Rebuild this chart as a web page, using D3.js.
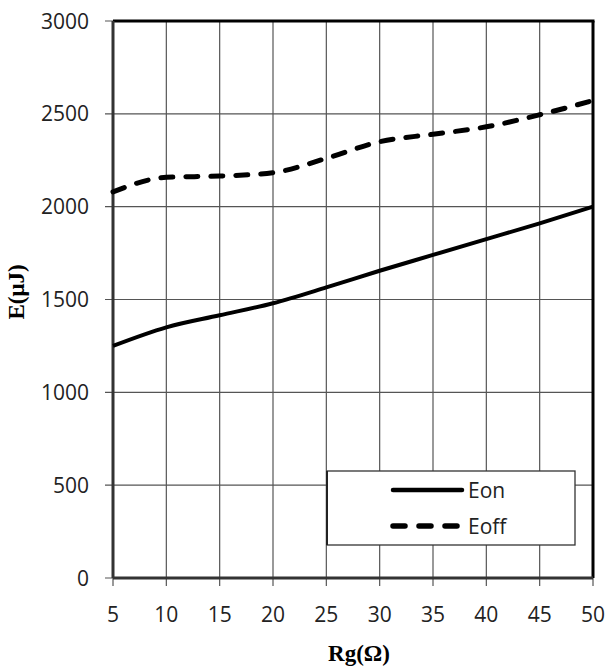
<!DOCTYPE html>
<html><head><meta charset="utf-8">
<script src="https://cdn.jsdelivr.net/npm/d3@7"></script>
<style>body{margin:0;background:#fff}</style>
</head><body>
<svg id="c" width="610" height="667"></svg>
<script>
const rg = [5,10,15,20,25,30,35,40,45,50];
const eon = [1250,1350,1415,1480,1565,1655,1740,1825,1910,2000];
const eoff = [2080,2158,2165,2183,2260,2350,2390,2430,2495,2572];
const xTicks = [5,10,15,20,25,30,35,40,45,50];
const yTicks = [0,500,1000,1500,2000,2500,3000];
const seriesNames = ["Eon","Eoff"];

const svg = d3.select("#c");
const L=113, R=593, T=21, B=578;
const x = d3.scaleLinear().domain([5,50]).range([L,R]);
const y = d3.scaleLinear().domain([0,3000]).range([B,T]);
const tickFont = "'Open Sans', 'Liberation Sans', sans-serif";

// gridlines
svg.append("g").selectAll("line").data(xTicks).join("line")
  .attr("x1",d=>x(d)).attr("x2",d=>x(d)).attr("y1",T).attr("y2",B+8)
  .attr("stroke","#555").attr("stroke-width",1.2);
svg.append("g").selectAll("line").data(yTicks).join("line")
  .attr("x1",L-8).attr("x2",R).attr("y1",d=>y(d)).attr("y2",d=>y(d))
  .attr("stroke","#555").attr("stroke-width",1.2);

// frame
svg.append("line").attr("x1",L).attr("x2",R+1.5).attr("y1",T).attr("y2",T).attr("stroke","#000").attr("stroke-width",3);
svg.append("line").attr("x1",R).attr("x2",R).attr("y1",T).attr("y2",B).attr("stroke","#000").attr("stroke-width",3);
svg.append("line").attr("x1",L).attr("x2",R).attr("y1",B).attr("y2",B).attr("stroke","#333").attr("stroke-width",3);
svg.append("line").attr("x1",L).attr("x2",L).attr("y1",T).attr("y2",B).attr("stroke","#333").attr("stroke-width",3);

// tick labels
svg.append("g").selectAll("text").data(yTicks).join("text")
  .attr("x",89).attr("y",d=>y(d)+7.5).attr("text-anchor","end")
  .attr("font-family",tickFont).attr("font-size",21).attr("fill","#222").text(d=>d);
svg.append("g").selectAll("text").data(xTicks).join("text")
  .attr("x",d=>x(d)).attr("y",622).attr("text-anchor","middle")
  .attr("font-family",tickFont).attr("font-size",21).attr("fill","#222").text(d=>d);

// axis titles
svg.append("text").attr("transform","translate(24,292) rotate(-90)").attr("text-anchor","middle")
  .attr("font-family","'Liberation Serif', serif").attr("font-weight","bold").attr("font-size",23).text("E(μJ)");
svg.append("text").attr("x",359).attr("y",661).attr("text-anchor","middle")
  .attr("font-family","'Liberation Serif', serif").attr("font-weight","bold").attr("font-size",23).text("Rg(Ω)");

// lines
const line = d3.line().x((d,i)=>x(rg[i])).y(d=>y(d)).curve(d3.curveMonotoneX);
svg.append("path").attr("d",line(eon)).attr("fill","none").attr("stroke","#000").attr("stroke-width",4);
svg.append("path").attr("d",line(eoff)).attr("fill","none").attr("stroke","#000").attr("stroke-width",5)
  .attr("stroke-dasharray","12,13").attr("stroke-linecap","round");

// legend
const lg = svg.append("g");
lg.append("rect").attr("x",327).attr("y",471).attr("width",248).attr("height",74)
  .attr("fill","#fff").attr("stroke","#333").attr("stroke-width",1.3);
lg.append("line").attr("x1",327).attr("x2",327).attr("y1",471).attr("y2",545).attr("stroke","#222").attr("stroke-width",2);
const ly = [490,526];
seriesNames.forEach((n,i)=>{
  const l = lg.append("line").attr("x1",393).attr("x2",462).attr("y1",ly[i]).attr("y2",ly[i])
    .attr("stroke","#000").attr("stroke-linecap","round");
  if(i===0) l.attr("stroke-width",4.5);
  else l.attr("stroke-width",5.5).attr("stroke-dasharray","12,14");
  lg.append("text").attr("x",468).attr("y",ly[i]+8).attr("font-family",tickFont)
    .attr("font-size",21).attr("fill","#222").text(n);
});
</script>
</body></html>
